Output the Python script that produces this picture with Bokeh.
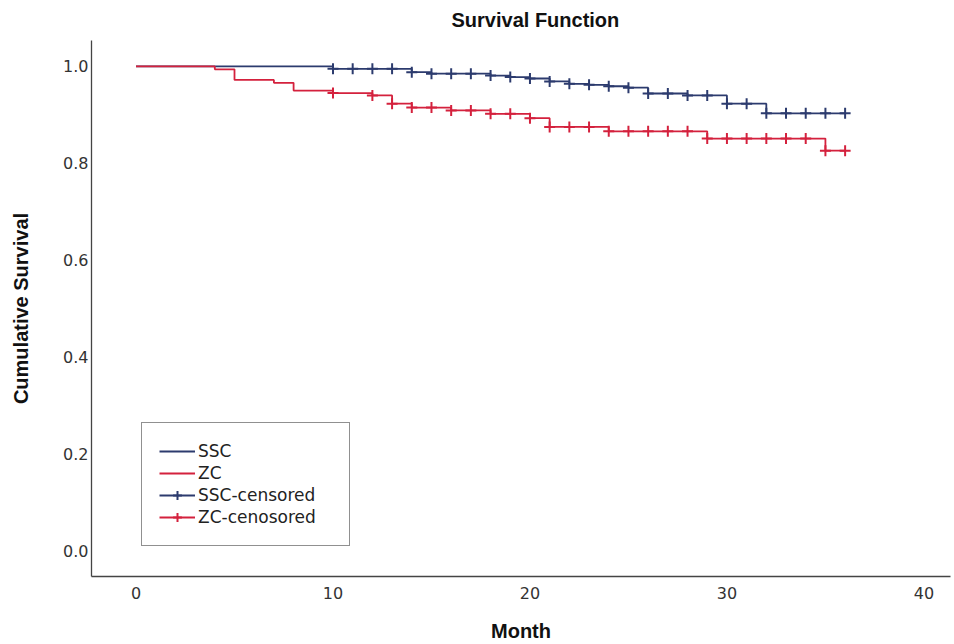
from bokeh.plotting import figure
from bokeh.models import Range1d, Legend, LegendItem, FixedTicker, NumeralTickFormatter
from bokeh.embed import file_html
from bokeh.resources import INLINE

# ---- data ----
ssc_time = [0, 10, 14, 15, 18, 19, 20, 21, 22, 23, 24, 25, 26, 28, 30, 32, 36]
ssc_surv = [1.0, 0.995, 0.988, 0.985, 0.981, 0.978, 0.975, 0.969, 0.964, 0.962, 0.959,
            0.956, 0.944, 0.940, 0.923, 0.903, 0.903]
ssc_censored = [10, 11, 12, 13, 14, 15, 16, 17, 18, 19, 20, 21, 22, 23, 24, 25, 26, 27,
                28, 29, 30, 31, 32, 33, 34, 35, 36]

zc_time = [0, 4, 5, 7, 8, 10, 12, 13, 14, 16, 18, 20, 21, 24, 29, 35, 36]
zc_surv = [1.0, 0.994, 0.972, 0.966, 0.950, 0.945, 0.940, 0.923, 0.915, 0.909, 0.902,
           0.893, 0.875, 0.866, 0.851, 0.826, 0.826]
zc_censored = [10, 12, 13, 14, 15, 16, 17, 18, 19, 20, 21, 22, 23, 24, 25, 26, 27,
               28, 29, 30, 31, 32, 33, 34, 35, 36]

x_ticks = [0, 10, 20, 30, 40]
y_ticks = [0.0, 0.2, 0.4, 0.6, 0.8, 1.0]

SSC_COLOR = "#2c3b6e"
ZC_COLOR = "#d4213d"


def surv_at(times, survs, t):
    s = survs[0]
    for ti, si in zip(times, survs):
        if ti <= t:
            s = si
    return s


ssc_cens_s = [surv_at(ssc_time, ssc_surv, t) for t in ssc_censored]
zc_cens_s = [surv_at(zc_time, zc_surv, t) for t in zc_censored]

p = figure(width=954, height=644, output_backend="svg", toolbar_location=None,
           x_range=Range1d(-2.26, 41.35), y_range=Range1d(-0.0535, 1.0535),
           min_border_left=91, min_border_right=4, min_border_top=40, min_border_bottom=66)

p.title.text = "Survival Function"
p.title.align = "left"
p.title.vertical_align = "top"
p.title.offset = 360
p.title.text_font = "Liberation Sans"
p.title.text_font_size = "20px"
p.title.text_font_style = "bold"
p.title.text_color = "#111111"
p.title.standoff = 16

p.outline_line_color = None
p.grid.visible = False
p.background_fill_color = "white"
p.border_fill_color = "white"

for ax in (p.xaxis[0], p.yaxis[0]):
    ax.axis_line_color = "#444444"
    ax.axis_line_width = 1.3
    ax.major_tick_line_color = None
    ax.minor_tick_line_color = None
    ax.major_tick_out = 0
    ax.major_tick_in = 0
    ax.minor_tick_out = 0
    ax.major_label_text_font = "DejaVu Sans"
    ax.major_label_text_font_size = "16px"
    ax.major_label_text_color = "#333333"
    ax.axis_label_text_font = "Liberation Sans"
    ax.axis_label_text_font_size = "20px"
    ax.axis_label_text_font_style = "bold"
    ax.axis_label_text_color = "#111111"

p.xaxis.axis_label = "Month"
p.xaxis.ticker = FixedTicker(ticks=x_ticks)
p.xaxis.major_label_standoff = 10
p.xaxis.axis_label_standoff = 18

p.yaxis.axis_label = "Cumulative Survival"
p.yaxis.ticker = FixedTicker(ticks=y_ticks)
p.yaxis.formatter = NumeralTickFormatter(format="0.0")
p.yaxis.major_label_standoff = 3
p.yaxis.axis_label_standoff = 28

r_ssc = p.step(ssc_time, ssc_surv, mode="after", line_color=SSC_COLOR, line_width=1.8)
r_zc = p.step(zc_time, zc_surv, mode="after", line_color=ZC_COLOR, line_width=1.8)
r_ssc_c = p.scatter(ssc_censored, ssc_cens_s, marker="cross", size=11,
                    line_color=SSC_COLOR, line_width=2)
r_zc_c = p.scatter(zc_censored, zc_cens_s, marker="cross", size=11,
                   line_color=ZC_COLOR, line_width=2)

legend = Legend(items=[
    LegendItem(label="SSC", renderers=[r_ssc]),
    LegendItem(label="ZC", renderers=[r_zc]),
    LegendItem(label="SSC-censored", renderers=[r_ssc, r_ssc_c]),
    LegendItem(label="ZC-cenosored", renderers=[r_zc, r_zc_c]),
], location=(50, 30))
legend.border_line_color = "#222222"
legend.border_line_width = 1.5
legend.background_fill_color = "white"
legend.background_fill_alpha = 1.0
legend.padding = 17
legend.margin = 0
legend.spacing = 0
legend.label_height = 22
legend.glyph_height = 22
legend.glyph_width = 36
legend.label_standoff = 3
legend.label_width = 134
legend.label_text_font = "DejaVu Sans"
legend.label_text_font_size = "17px"
legend.label_text_color = "#222222"
p.add_layout(legend, "center")

open("out.html", "w").write(file_html(p, INLINE))
